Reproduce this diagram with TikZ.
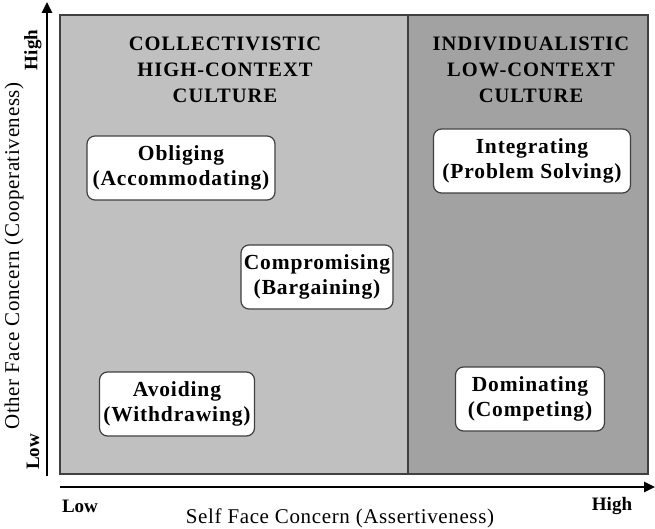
\documentclass[tikz,border=0pt]{standalone}
\usepackage{fontspec}
\setmainfont{Liberation Serif}
\newfontfamily\boxfont[LetterSpace=4]{Liberation Serif}
\newfontfamily\titlefont[LetterSpace=5]{Liberation Serif}
\newfontfamily\axisfont[LetterSpace=3]{Liberation Serif}
\usetikzlibrary{arrows.meta}
\definecolor{lightzone}{HTML}{C0C0C0}
\definecolor{darkzone}{HTML}{A2A2A2}
\definecolor{edgegray}{HTML}{404040}
\tikzset{
  stylebox/.style={draw=edgegray, line width=1.2pt, fill=white, rounded corners=8pt,
    align=center, font=\boxfont\bfseries\fontsize{21.5}{25}\selectfont, inner sep=2pt, minimum height=64pt},
  titletext/.style={align=center, font=\titlefont\bfseries\fontsize{20.5}{26}\selectfont},
  axislabel/.style={font=\axisfont\fontsize{21}{22}\selectfont},
  endlabel/.style={font=\bfseries\fontsize{19}{22}\selectfont},
  axisline/.style={line width=2.6pt, -{Triangle[length=11pt,width=10pt]}}
}
\begin{document}
\begin{tikzpicture}[x=1pt,y=-1pt]
\useasboundingbox (0,0) rectangle (655,529);
% zones
\fill[lightzone] (60,15) rectangle (408,474);
\fill[darkzone] (408,15) rectangle (648,474);
\draw[edgegray, line width=1.3pt] (60,15) rectangle (648,474);
\draw[edgegray, line width=1.3pt] (408,15) -- (408,474);
% titles
\node[titletext] (coll) at (225,70) {COLLECTIVISTIC\\HIGH-CONTEXT\\CULTURE};
\node[titletext] (indi) at (531,70) {INDIVIDUALISTIC\\LOW-CONTEXT\\CULTURE};
% style boxes
\node[stylebox, minimum width=188pt] (oblig) at (181,168) {Obliging\\(Accommodating)};
\node[stylebox, minimum width=152pt] (comp) at (317,277) {Compromising\\(Bargaining)};
\node[stylebox, minimum width=155pt] (avoid) at (177,404) {Avoiding\\(Withdrawing)};
\node[stylebox, minimum width=197pt] (integ) at (532,161) {Integrating\\(Problem Solving)};
\node[stylebox, minimum width=149pt] (domin) at (530,399) {Dominating\\(Competing)};
% axes
\coordinate (yorig) at (47,476);
\coordinate (ytip) at (47,2);
\coordinate (xorig) at (60,487);
\coordinate (xtip) at (655,487);
\draw[axisline] (yorig) -- (ytip);
\draw[axisline] (xorig) -- (xtip);
% axis labels
\node[endlabel, rotate=90] (yhigh) at (33,50) {High};
\node[endlabel, rotate=90] (ylow) at (33,452) {Low};
\node[axislabel, rotate=90] (ylab) at (14,256) {Other Face Concern (Cooperativeness)};
\node[endlabel] (xlow) at (80,506) {Low};
\node[endlabel] (xhigh) at (612,506) {High};
\node[axislabel] (xlab) at (340,518) {Self Face Concern (Assertiveness)};
\end{tikzpicture}
\end{document}
